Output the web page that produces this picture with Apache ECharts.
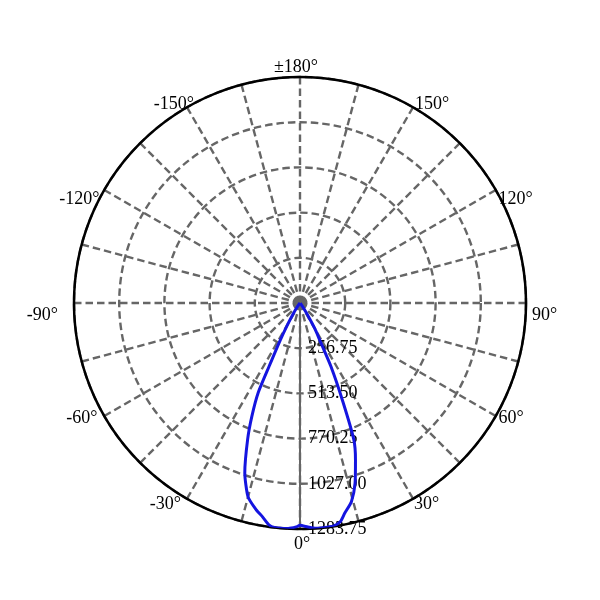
<!DOCTYPE html>
<html>
<head>
<meta charset="utf-8">
<script src="https://cdn.jsdelivr.net/npm/echarts@6/dist/echarts.min.js"></script>
<style>html,body{margin:0;padding:0;background:#fff}#c{width:600px;height:600px}</style>
</head>
<body>
<div id="c"></div>
<script>
// Signed polar angles (degrees, 0 = down, + = right) and luminous intensity values
var angles = [-180, -90, -50, -45, -40, -35, -32, -30, -28, -26, -25, -23, -21, -18, -15, -12, -10, -8, -6.5, -3, -1, 0, 2, 4, 6, 8.5, 10.5, 12, 14.5, 17, 19.5, 21.5, 23.5, 26, 28, 30, 32, 35, 40, 45, 50, 90, 180];
var intensity = [0, 0, 0, 2, 8, 30, 75, 140, 240, 400, 560, 700, 830, 1015, 1140, 1200, 1232, 1272, 1283, 1282, 1272, 1263, 1273, 1283, 1283, 1281, 1262, 1221, 1166, 1070, 944, 834, 610, 400, 240, 170, 90, 30, 8, 2, 0, 0, 0];
var radiusTicks = [0, 256.75, 513.50, 770.25, 1027.00, 1283.75];
var angleTickLabels = [0, 30, 60, 90, 120, 150, 180, -150, -120, -90, -60, -30];

var data = angles.map(function (a, i) { return [intensity[i], (a + 360) % 360]; });
var font = 'Liberation Serif';
var fs = 18;

// label styling (padding offsets) per tick label
function st(p) { return { fontFamily: font, fontSize: fs, color: '#000', padding: p, lineHeight: 18 }; }
var rich = {
  a0: st([144, 0, 0, 4]),
  a30: st([107, 0, 0, 34]),
  a60: st([52, 0, 0, 60]),
  a90: st([24, 0, 0, 72]),
  a120: st([0, 0, 30, 60]),
  a150: st([0, 0, 103, 35]),
  a180: st([0, 8, 134, 0]),
  am150: st([0, 26, 103, 0]),
  am120: st([0, 62, 30, 0]),
  am90: st([24, 82, 0, 0]),
  am60: st([52, 64, 0, 0]),
  am30: st([107, 39, 0, 0])
};

var chart = echarts.init(document.getElementById('c'));
chart.setOption({
  animation: false,
  backgroundColor: '#fff',
  polar: { center: [300, 303], radius: 226 },
  angleAxis: {
    type: 'value', min: 0, max: 360, interval: 15,
    startAngle: 270, clockwise: false,
    axisLine: { lineStyle: { color: '#000', width: 2.5 } },
    axisTick: { show: false },
    axisLabel: {
      margin: -66, color: '#000', fontFamily: font, fontSize: fs,
      rich: rich,
      formatter: function (v) {
        var s = v > 180 ? v - 360 : v;
        if (v === 360 || angleTickLabels.indexOf(s) < 0) return '';
        var key = s < 0 ? 'am' + (-s) : 'a' + s;
        var txt = s === 180 ? '±180°' : s + '°';
        return '{' + key + '|' + txt + '}';
      }
    },
    splitLine: { lineStyle: { color: '#666', width: 2.4, type: [7.5, 4] } }
  },
  radiusAxis: {
    type: 'value', min: radiusTicks[0], max: radiusTicks[radiusTicks.length - 1], interval: radiusTicks[1],
    axisLine: { lineStyle: { color: '#666', width: 2 } },
    axisTick: { show: false },
    axisLabel: {
      showMinLabel: false, color: '#000', fontFamily: font, fontSize: fs,
      formatter: function (v) { return v.toFixed(2); }
    },
    splitLine: { lineStyle: { color: '#666', width: 2.4, type: [7.5, 4] } }
  },
  series: [{
    type: 'line', coordinateSystem: 'polar', data: data,
    showSymbol: false, symbol: 'none', smooth: 0.2,
    lineStyle: { color: '#1414e0', width: 3 },
    z: 3
  }]
});
</script>
</body>
</html>
